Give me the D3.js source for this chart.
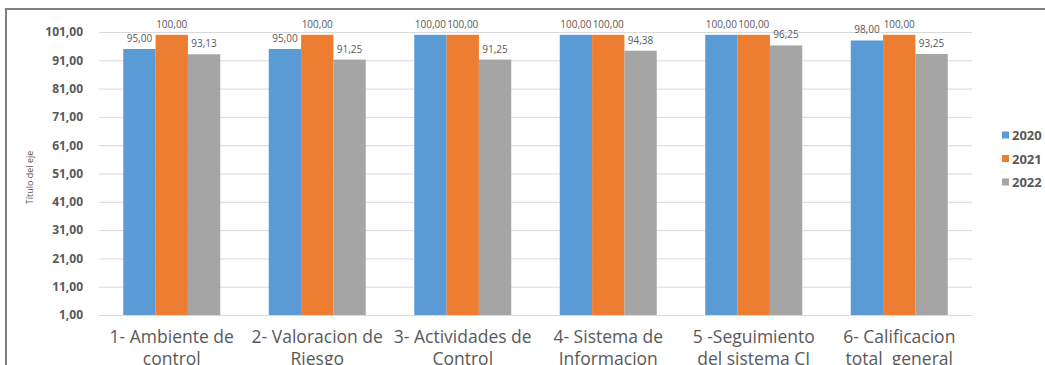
<!DOCTYPE html>
<html>
<head>
<meta charset="utf-8">
<script src="https://cdn.jsdelivr.net/npm/d3@7"></script>
<style>
  html, body { margin: 0; padding: 0; background: #fff; }
  svg { display: block; }
  text { font-family: "Open Sans", "Noto Sans", sans-serif; }
</style>
</head>
<body>
<svg id="chart" width="1045" height="365"></svg>
<script>
// Categories (two lines each) and yearly scores
const categories = [
  ["1- Ambiente de", "control"],
  ["2- Valoracion de", "Riesgo"],
  ["3- Actividades de", "Control"],
  ["4- Sistema de", "Informacion"],
  ["5 -Seguimiento", "del sistema CI"],
  ["6- Calificacion", "total  general"]
];
const series = ["2020", "2021", "2022"];
const values2020 = [95.00, 95.00, 100.00, 100.00, 100.00, 98.00];
const values2021 = [100.00, 100.00, 100.00, 100.00, 100.00, 100.00];
const values2022 = [93.13, 91.25, 91.25, 94.38, 96.25, 93.25];
const yTicks = [1, 11, 21, 31, 41, 51, 61, 71, 81, 91, 101];
const colors = ["#5b9bd5", "#ed7d31", "#a5a5a5"];
const axisTitle = "Título del eje";

const seriesValues = [values2020, values2021, values2022];
const fmt = v => v.toFixed(2).replace(".", ",");

const svg = d3.select("#chart");

// Outer frame (top and left edges visible)
svg.append("line").attr("x1", 5).attr("x2", 1045).attr("y1", 9).attr("y2", 9)
  .attr("stroke", "#7f7f7f").attr("stroke-width", 2);
svg.append("line").attr("x1", 6).attr("x2", 6).attr("y1", 8).attr("y2", 365)
  .attr("stroke", "#7f7f7f").attr("stroke-width", 2);

const plot = { left: 99, right: 972, top: 32, bottom: 315 };

const x = d3.scaleBand()
  .domain(d3.range(categories.length))
  .range([plot.left, plot.right])
  .padding(0);
const bw = x.bandwidth();
const barW = bw / 4.5;
const xs = d3.scaleBand()
  .domain(series)
  .range([barW * 0.75, bw - barW * 0.75])
  .padding(0);

const y = d3.scaleLinear().domain([1, 101]).range([plot.bottom, plot.top]);

// Gridlines and y labels
const yAxis = d3.axisLeft(y)
  .tickValues(yTicks)
  .tickSize(-(plot.right - plot.left))
  .tickPadding(16)
  .tickFormat(fmt);
const gy = svg.append("g").attr("transform", `translate(${plot.left},0)`).call(yAxis);
gy.select(".domain").remove();
gy.selectAll(".tick line").attr("stroke", "#d9d9d9").attr("stroke-width", 1);
gy.selectAll(".tick text")
  .attr("fill", "#595959")
  .attr("font-size", 12)
  .attr("font-weight", "bold");

// Axis title
svg.append("text")
  .attr("transform", `translate(33,${(plot.top + plot.bottom) / 2 + 4}) rotate(-90)`)
  .attr("text-anchor", "middle")
  .attr("font-size", 9)
  .attr("fill", "#595959")
  .text(axisTitle);

// Bars
const groups = svg.append("g").selectAll("g")
  .data(categories.map((c, i) => i))
  .join("g")
  .attr("transform", i => `translate(${x(i)},0)`);

groups.selectAll("rect")
  .data(i => series.map((s, k) => ({ s, k, v: seriesValues[k][i] })))
  .join("rect")
  .attr("x", d => xs(d.s))
  .attr("width", xs.bandwidth())
  .attr("y", d => y(d.v))
  .attr("height", d => y(1) - y(d.v))
  .attr("fill", d => colors[d.k]);

// Data labels
groups.selectAll("text.val")
  .data(i => series.map((s, k) => ({ s, k, v: seriesValues[k][i] })))
  .join("text")
  .attr("class", "val")
  .attr("x", d => xs(d.s) + xs.bandwidth() / 2)
  .attr("y", d => y(d.v) - 7)
  .attr("text-anchor", "middle")
  .attr("font-size", 10)
  .attr("fill", "#595959")
  .text(d => fmt(d.v));

// Category axis line
svg.append("line")
  .attr("x1", plot.left).attr("x2", plot.right)
  .attr("y1", y(1) + 0.5).attr("y2", y(1) + 0.5)
  .attr("stroke", "#d9d9d9");

// Category labels (second line runs past the bottom edge of the frame)
const cat = svg.append("g").selectAll("text")
  .data(categories)
  .join("text")
  .attr("x", (d, i) => x(i) + bw / 2)
  .attr("y", 343)
  .attr("text-anchor", "middle")
  .attr("font-size", 17.5)
  .attr("fill", "#595959");
cat.selectAll("tspan")
  .data(d => d)
  .join("tspan")
  .attr("x", function () { return d3.select(this.parentNode).attr("x"); })
  .attr("dy", (d, j) => j === 0 ? 0 : 22)
  .style("white-space", "pre")
  .text(d => d);

// Legend
const legend = svg.append("g").selectAll("g")
  .data(series)
  .join("g")
  .attr("transform", (d, k) => `translate(1002,${135 + k * 23.5})`);
legend.append("rect")
  .attr("x", 0).attr("y", -3.5).attr("width", 7).attr("height", 7)
  .attr("fill", (d, k) => colors[k]);
legend.append("text")
  .attr("x", 10).attr("y", 5)
  .attr("font-size", 13)
  .attr("font-weight", "bold")
  .attr("fill", "#595959")
  .text(d => d);
</script>
</body>
</html>
